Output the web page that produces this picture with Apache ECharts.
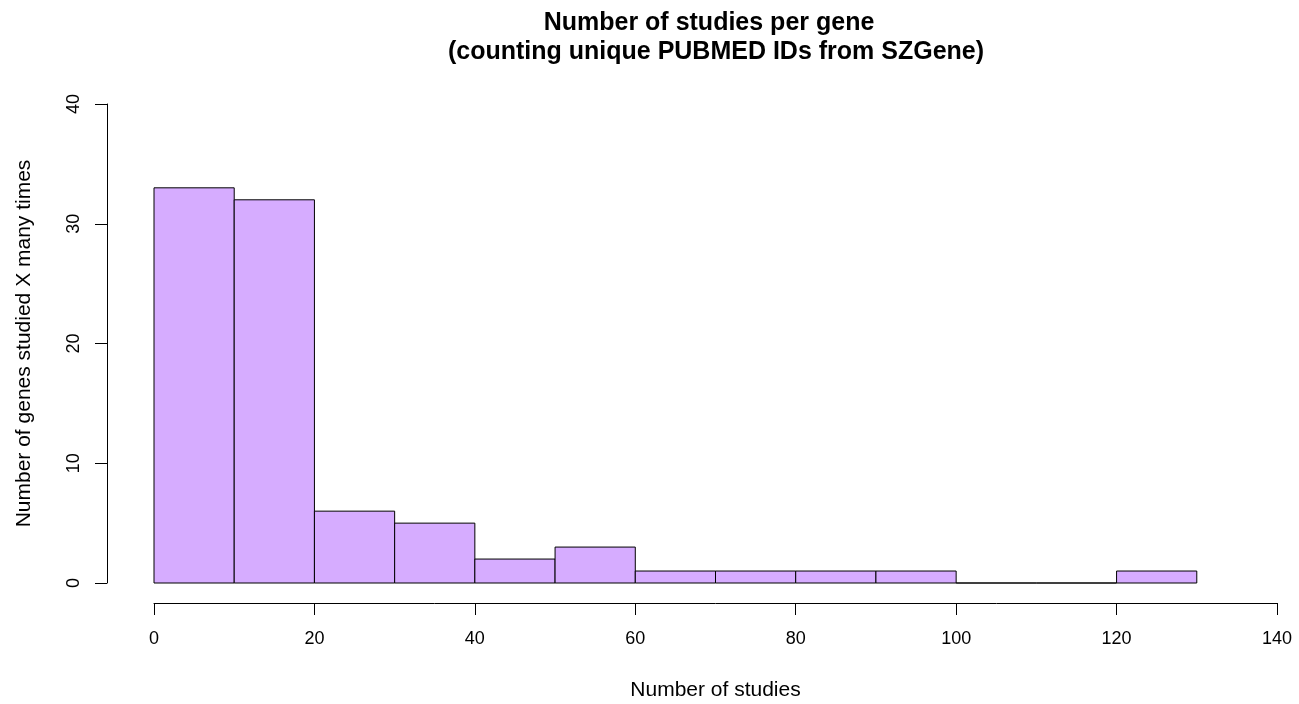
<!DOCTYPE html>
<html>
<head>
<meta charset="utf-8">
<title>Number of studies per gene</title>
<script src="https://cdn.jsdelivr.net/npm/echarts@6/dist/echarts.min.js"></script>
<style>
  html, body { margin: 0; padding: 0; background: #fff; }
  #chart { width: 1299px; height: 704px; }
</style>
</head>
<body>
<div id="chart"></div>
<script>
// histogram bins (left edges), all 10 wide
var binStarts = [0, 10, 20, 30, 40, 50, 60, 70, 80, 90, 100, 110, 120];
var binWidth = 10;
var geneCounts = [33, 32, 6, 5, 2, 3, 1, 1, 1, 1, 0, 0, 1];

var xMin = 0, xMax = 140, xStep = 20;
var yMin = 0, yMax = 40, yStep = 10;

var FONT = '"Liberation Sans", Arial, Helvetica, sans-serif';
var BAR_FILL = '#d6acff';

var chart = echarts.init(document.getElementById('chart'), null, { renderer: 'canvas' });

var histData = binStarts.map(function (s, i) {
  return [s, s + binWidth, geneCounts[i]];
});

var titleStyle = {
  fontFamily: FONT,
  fontSize: 25,
  fontWeight: 'bold',
  color: '#000',
  lineHeight: 29
};

chart.setOption({
  animation: false,
  backgroundColor: '#ffffff',
  // two lines, each centred on its own like R's main title
  title: [
    { text: 'Number of studies per gene', left: 704, top: 4, textAlign: 'center', textStyle: titleStyle },
    { text: '(counting unique PUBMED IDs from SZGene)', left: 711, top: 33, textAlign: 'center', textStyle: titleStyle }
  ],
  grid: {
    left: 154, right: 22, top: 104, bottom: 121,
    containLabel: false,
    outerBoundsMode: 'none'
  },
  xAxis: {
    type: 'value',
    min: xMin,
    max: xMax,
    interval: xStep,
    offset: 20,
    name: 'Number of studies',
    nameLocation: 'middle',
    nameGap: 77,
    nameTextStyle: { fontFamily: FONT, fontSize: 21, color: '#000' },
    axisLine: { show: true, onZero: false, lineStyle: { color: '#000', width: 1 } },
    axisTick: { show: true, length: 12, lineStyle: { color: '#000', width: 1 } },
    axisLabel: { fontFamily: FONT, fontSize: 18, color: '#000', margin: 27 },
    splitLine: { show: false }
  },
  yAxis: {
    type: 'value',
    min: yMin,
    max: yMax,
    interval: yStep,
    offset: 47,
    name: 'Number of genes studied X many times',
    nameLocation: 'middle',
    nameGap: 72,
    nameRotate: 90,
    nameTextStyle: { fontFamily: FONT, fontSize: 21, color: '#000' },
    axisLine: { show: true, onZero: false, lineStyle: { color: '#000', width: 1 } },
    axisTick: { show: true, length: 12, lineStyle: { color: '#000', width: 1 } },
    axisLabel: { fontFamily: FONT, fontSize: 18, color: '#000', margin: 24, rotate: 90 },
    splitLine: { show: false }
  },
  series: [{
    type: 'custom',
    data: histData,
    encode: { x: [0, 1], y: 2 },
    renderItem: function (params, api) {
      var p0 = api.coord([api.value(0), api.value(2)]);
      var p1 = api.coord([api.value(1), 0]);
      return {
        type: 'rect',
        shape: { x: p0[0], y: p0[1], width: p1[0] - p0[0], height: p1[1] - p0[1] },
        style: { fill: BAR_FILL, stroke: '#000', lineWidth: 1 }
      };
    }
  }]
});
</script>
</body>
</html>
